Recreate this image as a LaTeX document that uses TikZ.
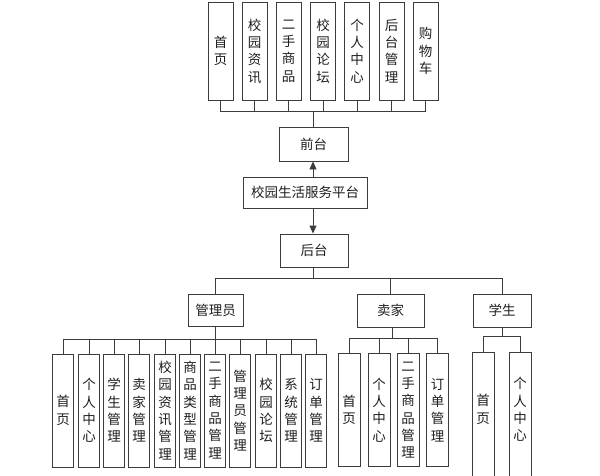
\documentclass[tikz,border=0pt]{standalone}
\usepackage{fontspec}
\newfontfamily\cjk{Noto Sans CJK SC}
\usepackage{tikz}
\usetikzlibrary{arrows.meta}
\definecolor{lineGray}{RGB}{60,60,60}
\definecolor{textGray}{RGB}{30,30,30}

\begin{document}
\begin{tikzpicture}[
  x=1pt, y=-1pt,
  font=\cjk\fontsize{13.5}{17.3}\selectfont,
  hbox/.style={draw=lineGray, rectangle, inner sep=0pt, line width=0.9pt, text=textGray},
  vbox/.style={hbox, minimum width=21pt, minimum height=113pt, align=center},
  topbox/.style={vbox, minimum width=25pt, minimum height=98pt},
  openbox/.style={vbox, draw=none},
  wire/.style={draw=lineGray, line width=0.9pt},
  >={Triangle[length=8pt, width=7pt]},
]
\useasboundingbox (0,0) rectangle (600,475);
\clip (0,0) rectangle (600,475);

% ============ front-end modules (top row) ============
\node[topbox] (fHome)   at (220.5,51) {首\\页};
\node[topbox] (fNews)   at (254.5,51) {校\\园\\资\\讯};
\node[topbox] (fMarket) at (288.5,51) {二\\手\\商\\品};
\node[topbox] (fForum)  at (323,51)   {校\\园\\论\\坛};
\node[topbox] (fCenter) at (357,51)   {个\\人\\中\\心};
\node[topbox] (fAdmin)  at (391.5,51) {后\\台\\管\\理};
\node[topbox] (fCart)   at (425.5,51) {购\\物\\车};

% ============ platform spine ============
\node[hbox, minimum width=69pt, minimum height=34pt] (front) at (313.5,144) {前台};
\node[hbox, minimum width=124pt, minimum height=31pt] (platform) at (305,192.5) {校园生活服务平台};
\node[hbox, minimum width=68pt, minimum height=33pt] (back) at (314,250.5) {后台};

% ============ roles ============
\node[hbox, minimum width=55pt, minimum height=32pt] (admin)   at (215.5,310) {管理员};
\node[hbox, minimum width=67pt, minimum height=33pt] (seller)  at (390.5,310.5) {卖家};
\node[hbox, minimum width=58pt, minimum height=33pt] (student) at (502,310.5) {学生};

% ============ admin modules ============
\node[vbox] (aHome)    at (63,410.5)  {首\\页};
\node[vbox] (aCenter)  at (89,410.5)  {个\\人\\中\\心};
\node[vbox] (aStudent) at (114,410.5) {学\\生\\管\\理};
\node[vbox] (aSeller)  at (139,410.5) {卖\\家\\管\\理};
\node[vbox] (aNews)    at (165,410.5) {校\\园\\资\\讯\\管\\理};
\node[vbox] (aType)    at (190,410.5) {商\\品\\类\\型\\管\\理};
\node[vbox] (aGoods)   at (215,410.5) {二\\手\\商\\品\\管\\理};
\node[vbox] (aAdmins)  at (240,410.5) {管\\理\\员\\管\\理};
\node[vbox] (aForum)   at (266,410.5) {校\\园\\论\\坛};
\node[vbox] (aSystem)  at (291,410.5) {系\\统\\管\\理};
\node[vbox] (aOrder)   at (316,410.5) {订\\单\\管\\理};

% ============ seller modules ============
\node[vbox, minimum width=22pt] (sHome)   at (349,410)   {首\\页};
\node[vbox, minimum width=22pt] (sCenter) at (379,410)   {个\\人\\中\\心};
\node[vbox, minimum width=22pt] (sGoods)  at (408,410)   {二\\手\\商\\品\\管\\理};
\node[vbox, minimum width=22pt] (sOrder)  at (437.5,410) {订\\单\\管\\理};

% ============ student modules (cut off at the bottom) ============
\node[openbox] (uHome)   at (483,409.5) {首\\页};
\node[openbox] (uCenter) at (520,409.5) {个\\人\\中\\心};
\draw[wire] ([yshift=-14pt]uHome.south west) -- (uHome.north west) -- (uHome.north east) -- ([yshift=-14pt]uHome.south east);
\draw[wire] ([yshift=-14pt]uCenter.south west) -- (uCenter.north west) -- (uCenter.north east) -- ([yshift=-14pt]uCenter.south east);

% ===================== CONNECTORS =====================

% top row -> front
\coordinate (topBus) at (313,111);
\draw[wire] (fHome.south) -- (fHome.south |- topBus) -- (fCart.south |- topBus) -- (fCart.south);
\draw[wire] (fNews.south) -- (fNews.south |- topBus) (fMarket.south) -- (fMarket.south |- topBus)
  (fForum.south) -- (fForum.south |- topBus) (fCenter.south) -- (fCenter.south |- topBus)
  (fAdmin.south) -- (fAdmin.south |- topBus);
\draw[wire] (front.north -| topBus) -- (topBus);

% platform -> front / back
\draw[wire, ->] (platform.north -| topBus) -- (front.south -| topBus);
\draw[wire, ->] (platform.south -| topBus) -- (back.north -| topBus);

% back -> roles
\coordinate (roleBus) at (313,278);
\draw[wire] (back.south -| roleBus) -- (roleBus);
\draw[wire] (admin.north) -- (admin.north |- roleBus) -- (student.north |- roleBus) -- (student.north);
\draw[wire] (seller.north) -- (seller.north |- roleBus);

% admin -> modules
\coordinate (adminBus) at (216,339);
\draw[wire] (admin.south) -- (admin.south |- adminBus);
\draw[wire] (aHome.north) -- (aHome.north |- adminBus) -- (aOrder.north |- adminBus) -- (aOrder.north);
\draw[wire] (aCenter.north) -- (aCenter.north |- adminBus) (aStudent.north) -- (aStudent.north |- adminBus)
  (aSeller.north) -- (aSeller.north |- adminBus) (aNews.north) -- (aNews.north |- adminBus)
  (aType.north) -- (aType.north |- adminBus) (aGoods.north) -- (aGoods.north |- adminBus)
  (aAdmins.north) -- (aAdmins.north |- adminBus) (aForum.north) -- (aForum.north |- adminBus)
  (aSystem.north) -- (aSystem.north |- adminBus);

% seller -> modules
\coordinate (sellerBus) at (392,338);
\draw[wire] (seller.south -| sellerBus) -- (sellerBus);
\draw[wire] (sHome.north) -- (sHome.north |- sellerBus) -- (sOrder.north |- sellerBus) -- (sOrder.north);
\draw[wire] (sCenter.north) -- (sCenter.north |- sellerBus) (sGoods.north) -- (sGoods.north |- sellerBus);

% student -> modules
\coordinate (studentBus) at (502,336);
\draw[wire] (student.south) -- (student.south |- studentBus);
\draw[wire] (uHome.north) -- (uHome.north |- studentBus) -- (uCenter.north |- studentBus) -- (uCenter.north);

\end{tikzpicture}
\end{document}
